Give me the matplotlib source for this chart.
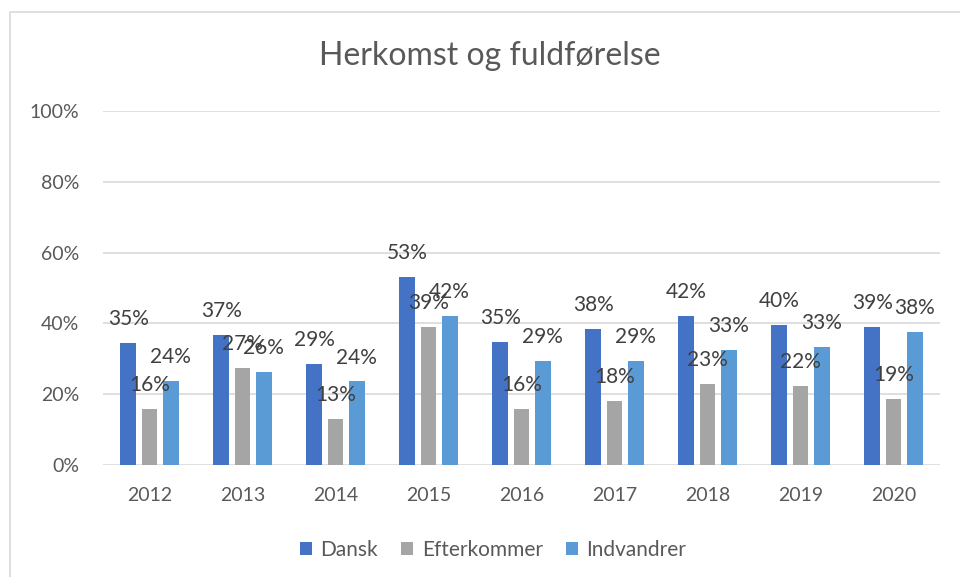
import numpy as np
import matplotlib.pyplot as plt
from matplotlib.patches import Rectangle

years = ["2012", "2013", "2014", "2015", "2016", "2017", "2018", "2019", "2020"]
dansk = [34.6, 36.8, 28.6, 53.0, 34.8, 38.4, 42.1, 39.5, 39.0]
efterkommer = [15.8, 27.3, 13.0, 39.0, 15.8, 18.0, 22.8, 22.3, 18.6]
indvandrer = [23.7, 26.3, 23.6, 42.2, 29.3, 29.4, 32.6, 33.3, 37.5]

series = [("Dansk", dansk, "#4472C4"),
          ("Efterkommer", efterkommer, "#A5A5A5"),
          ("Indvandrer", indvandrer, "#5B9BD5")]

plt.rcParams['font.family'] = ['Lato', 'DejaVu Sans']
txt = "#595959"

fig = plt.figure(figsize=(9.6, 5.77), dpi=100)
fig.patches.append(Rectangle((10/960, -0.1), 1.2, 1 - 12/577 + 0.1,
                             transform=fig.transFigure, fill=False,
                             edgecolor="#D9D9D9", linewidth=1.2))
ax = fig.add_axes([103/960, (577-465)/577, (940-103)/960, (465-111)/577])

x = np.arange(len(years))
w = 0.172
offs = [-0.226, 0, 0.226]
for (name, vals, col), o in zip(series, offs):
    bars = ax.bar(x + o, vals, w, color=col, label=name, zorder=3)
    for b, v in zip(bars, vals):
        ax.annotate(f"{v:.0f}%", (b.get_x() + b.get_width()/2, v),
                    xytext=(0, 10), textcoords="offset points",
                    ha="center", va="bottom", fontsize=15, color="#404040", zorder=4)

ax.set_xlim(-0.5, len(years) - 0.5)
ax.set_ylim(0, 100)
ax.set_yticks(range(0, 101, 20))
ax.set_yticklabels([f"{t}%" for t in range(0, 101, 20)])
ax.set_xticks(x)
ax.set_xticklabels(years)
ax.tick_params(length=0, labelsize=14, colors=txt)
ax.tick_params(axis="y", pad=17)
ax.tick_params(axis="x", pad=16)
ax.grid(axis="y", color="#D9D9D9", linewidth=1.2, zorder=0)
for s in ax.spines.values():
    s.set_visible(False)

fig.text(490/960, 1 - 56/577, "Herkomst og fuldførelse", ha="center", va="center",
         fontsize=23, color=txt)
fig.legend(loc="center", bbox_to_anchor=(493/960, 1 - 550/577), ncol=3, frameon=False,
           fontsize=15, labelcolor=txt, handlelength=0.6, handleheight=0.6,
           handletextpad=0.4, columnspacing=1.1)

fig.savefig("out.png", dpi=100)
